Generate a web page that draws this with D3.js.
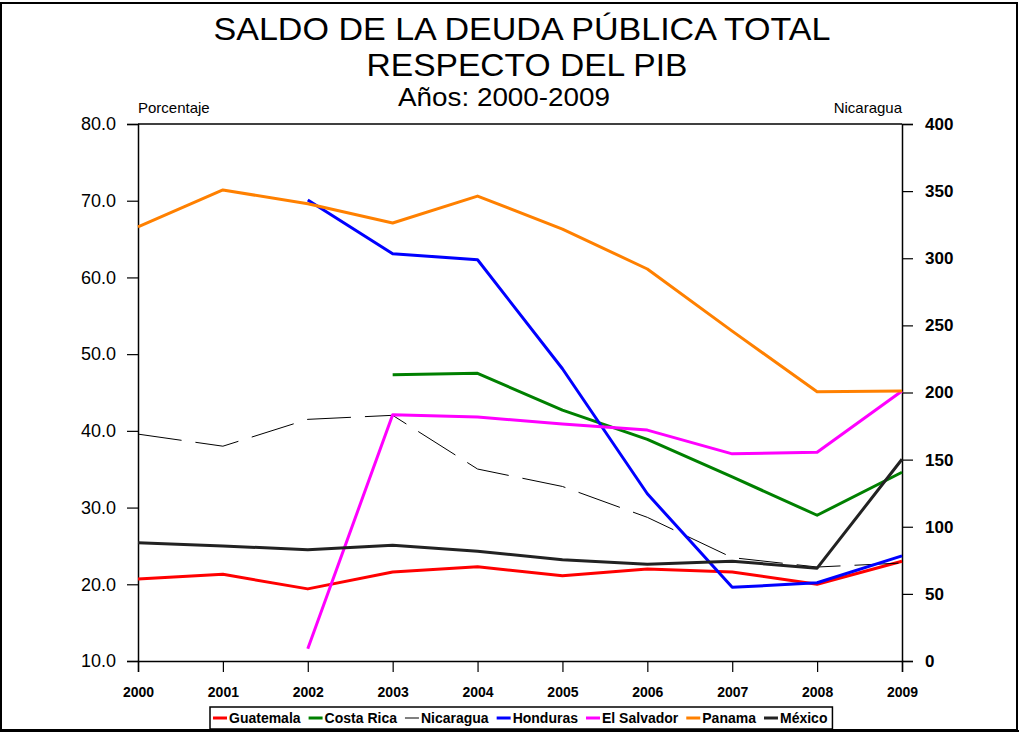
<!DOCTYPE html>
<html lang="es">
<head>
<meta charset="UTF-8">
<title>Deuda publica</title>
<script src="https://cdn.jsdelivr.net/npm/d3@7"></script>
<style>
  body { margin: 0; background: #fff; }
  svg { display: block; }
  svg text { font-family: "Liberation Sans", Arial, sans-serif; }
</style>
</head>
<body>
<svg width="1019" height="734"></svg>
<script>
// años
var years = [2000, 2001, 2002, 2003, 2004, 2005, 2006, 2007, 2008, 2009];

// eje izquierdo (porcentaje); null = sin dato
var guatemala  = [20.7, 21.3, 19.4, 21.6, 22.3, 21.1, 22.0, 21.6, 20.0, 23.0];
var costaRica  = [null, null, null, 47.3, 47.5, 42.7, 38.9, 34.0, 29.0, 34.6];
var honduras   = [null, null, 70.1, 63.1, 62.3, 48.1, 31.8, 19.6, 20.2, 23.7];
var elSalvador = [null, null, 11.6, 42.1, 41.8, 40.9, 40.1, 37.0, 37.2, 45.2];
var panama     = [66.6, 71.4, 69.6, 67.1, 70.6, 66.3, 61.1, 53.0, 45.1, 45.2];
var mexico     = [25.4, 25.0, 24.5, 25.1, 24.3, 23.2, 22.6, 23.0, 22.1, 36.3];

// eje derecho
var nicaragua  = [169, 160, 180, 183, 143, 130, 107, 77, 70, 73];

var leftTicks  = [10, 20, 30, 40, 50, 60, 70, 80];
var rightTicks = [0, 50, 100, 150, 200, 250, 300, 350, 400];

var series = [
    { name: "Guatemala",   values: guatemala,  color: "#ff0000", axis: "left" },
    { name: "Costa Rica",  values: costaRica,  color: "#008000", axis: "left" },
    { name: "Nicaragua",   values: nicaragua,  color: "#000000", axis: "right", dash: "44,14" },
    { name: "Honduras",    values: honduras,   color: "#0000ff", axis: "left" },
    { name: "El Salvador", values: elSalvador, color: "#ff00ff", axis: "left" },
    { name: "Panama",      values: panama,     color: "#ff8000", axis: "left" },
    { name: "México",      values: mexico,     color: "#222222", axis: "left" }
];

var svg = d3.select("svg");
var W = 1019, H = 734;
var L = 138, R = 902, T = 124, B = 661;

// marco exterior
svg.append("rect").attr("x", 1).attr("y", 3).attr("width", 1016).attr("height", 727)
    .attr("fill", "none").attr("stroke", "#000").attr("stroke-width", 2);
svg.append("line").attr("x1", 0).attr("x2", W).attr("y1", 731).attr("y2", 731)
    .attr("stroke", "#000").attr("stroke-width", 2);

var x = d3.scaleLinear().domain([2000, 2009]).range([L, R]);
var yL = d3.scaleLinear().domain([10, 80]).range([B, T]);
var yR = d3.scaleLinear().domain([0, 400]).range([B, T]);

// titulo (fuente estrecha simulada con textLength)
function titulo(txt, px, y, size, len) {
    svg.append("text").attr("x", px).attr("y", y).attr("text-anchor", "middle")
        .attr("textLength", len).attr("lengthAdjust", "spacingAndGlyphs")
        .style("font-size", size + "px").text(txt);
}
titulo("SALDO DE LA DEUDA PÚBLICA TOTAL", 522, 40, 31, 617);
titulo("RESPECTO DEL PIB", 527, 76, 31, 321);
titulo("Años: 2000-2009", 504, 106, 25, 212);

svg.append("text").attr("x", L).attr("y", 113)
    .style("font-size", "15px").text("Porcentaje");
svg.append("text").attr("x", R).attr("y", 113).attr("text-anchor", "end")
    .style("font-size", "15px").text("Nicaragua");

// borde superior del area
svg.append("line").attr("x1", L).attr("x2", R).attr("y1", T).attr("y2", T)
    .attr("stroke", "#000").attr("stroke-width", 1.5);

// ejes
var gl = svg.append("g").attr("transform", "translate(" + L + ",0)")
    .call(d3.axisLeft(yL).tickValues(leftTicks).tickFormat(d3.format(".1f")).tickSize(11).tickPadding(11))
    .attr("font-family", null);
gl.selectAll("text").style("font-size", "18px");

var gr = svg.append("g").attr("transform", "translate(" + R + ",0)")
    .call(d3.axisRight(yR).tickValues(rightTicks).tickSize(11).tickPadding(12))
    .attr("font-family", null);
gr.selectAll("text").style("font-size", "17px").style("font-weight", "bold");

var gx = svg.append("g").attr("transform", "translate(0," + B + ")")
    .call(d3.axisBottom(x).tickValues(years).tickFormat(d3.format("d")).tickSize(11).tickPadding(15))
    .attr("font-family", null);
gx.selectAll("text").style("font-size", "14px").style("font-weight", "bold");

svg.selectAll(".domain").attr("stroke-width", 1.5);
svg.selectAll(".tick line").attr("stroke-width", 1.2);

// lineas
series.forEach(function (s) {
    var yy = s.axis === "left" ? yL : yR;
    var line = d3.line()
        .defined(function (d) { return d != null; })
        .x(function (d, i) { return x(years[i]); })
        .y(function (d) { return yy(d); });
    svg.append("path").datum(s.values)
        .attr("d", line)
        .attr("fill", "none")
        .attr("stroke", s.color)
        .attr("stroke-width", s.dash ? 1 : 3)
        .attr("stroke-dasharray", s.dash || null)
        .attr("stroke-linejoin", "round");
});

// leyenda
var lg = svg.append("g");
var lx = 213, ly = 718;
var box = lg.append("rect").attr("x", 210).attr("y", 707).attr("height", 22)
    .attr("fill", "#fff").attr("stroke", "#000").attr("stroke-width", 1.5);
series.forEach(function (s) {
    lg.append("line").attr("x1", lx).attr("x2", lx + 14).attr("y1", ly).attr("y2", ly)
        .attr("stroke", s.color).attr("stroke-width", s.dash ? 1 : 3);
    var t = lg.append("text").attr("x", lx + 16).attr("y", ly + 5)
        .style("font-size", "14px").style("font-weight", "bold").text(s.name);
    lx += 16 + t.node().getComputedTextLength() + 8;
});
box.attr("width", lx - 210 - 3);
</script>
</body>
</html>
